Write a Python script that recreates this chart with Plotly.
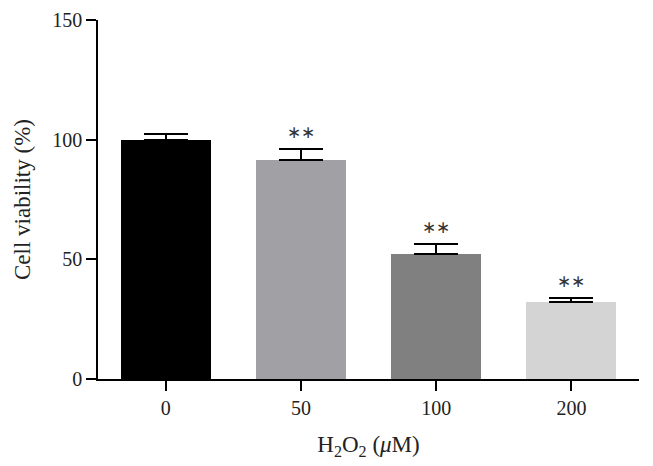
import plotly.graph_objects as go

categories = ["0", "50", "100", "200"]
viability = [100.0, 91.5, 52.2, 32.0]
error_up = [2.3, 4.5, 4.3, 2.0]
bar_colors = ["#000000", "#a1a1a5", "#808080", "#d4d4d4"]
significance = ["", "**", "**", "**"]
y_ticks = [0, 50, 100, 150]

FONT = "Liberation Serif, Times New Roman, serif"

fig = go.Figure()
fig.add_trace(go.Bar(
    x=list(range(len(categories))),
    y=viability,
    marker=dict(color=bar_colors, line=dict(width=0)),
    width=0.667,
    error_y=dict(type="data", symmetric=False, array=error_up,
                 arrayminus=[0] * len(categories),
                 color="#000000", thickness=2, width=22),
    showlegend=False,
))

for i, s in enumerate(significance):
    if s:
        fig.add_annotation(
            x=i, y=viability[i] + error_up[i], text="∗∗",
            showarrow=False, yanchor="bottom", yshift=5,
            font=dict(family=FONT, size=17, color="#333333"),
        )

fig.update_layout(
    width=645, height=458,
    margin=dict(l=90, r=14, t=12, b=87, autoexpand=False),
    plot_bgcolor="white", paper_bgcolor="white",
    font=dict(family=FONT, size=20, color="#222222"),
    bargap=0,
)
fig.update_xaxes(
    range=[-0.5, 3.5], automargin=False,
    tickmode="array", tickvals=list(range(len(categories))), ticktext=categories,
    tickfont=dict(family=FONT, size=20, color="#222222"),
    showline=True, linecolor="#000000", linewidth=1.5,
    ticks="outside", ticklen=10, tickwidth=1.5, tickcolor="#000000",
    showgrid=False, zeroline=False,
    title=dict(text="H<sub>2</sub>O<sub>2</sub> (<i>μ</i>M)", standoff=18,
               font=dict(family=FONT, size=23, color="#222222")),
)
fig.update_yaxes(
    range=[0, 150], automargin=False,
    tickmode="array", tickvals=y_ticks,
    tickfont=dict(family=FONT, size=20, color="#222222"),
    showline=True, linecolor="#000000", linewidth=1.5,
    ticks="outside", ticklen=10, tickwidth=1.5, tickcolor="#000000",
    showgrid=False, zeroline=False,
    title=dict(text="Cell viability (%)", standoff=15,
               font=dict(family=FONT, size=23, color="#222222")),
)

fig.write_html("out.html")
